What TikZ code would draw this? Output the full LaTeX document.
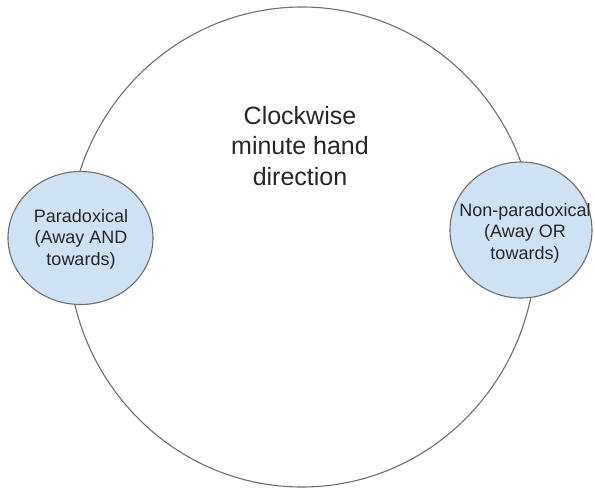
\documentclass[tikz,border=0pt]{standalone}
\usepackage{fontspec}
\setmainfont{Liberation Sans}
\usetikzlibrary{shapes.geometric}
\definecolor{lineg}{HTML}{6E6E6E}
\definecolor{bubble}{HTML}{CFE2F3}
\definecolor{txt}{HTML}{262626}
\tikzset{
  dialshape/.style={ellipse, draw=lineg, line width=1.1pt, inner sep=0pt, minimum width=468pt, minimum height=480pt},
  bubbleshape/.style={ellipse, draw=lineg, fill=bubble, line width=1.1pt, inner sep=0pt},
  bigtext/.style={align=center, text=txt, font=\fontsize{25}{30.5}\selectfont, inner sep=0pt},
  smalltext/.style={align=center, text=txt, font=\fontsize{18}{21.5}\selectfont, inner sep=0pt}
}
\begin{document}
\begin{tikzpicture}[x=1pt,y=-1pt]
\useasboundingbox (0,0) rectangle (595,488);
\node[dialshape] (dial) at (302,247) {};
\node[bigtext] (dirtext) at (300,146) {Clockwise\\minute hand\\direction};
\node[bubbleshape, minimum width=145pt, minimum height=133pt] (para) at (80.5,238) {};
\node[smalltext] (paratext) at (81,239) {Paradoxical\\(Away AND\\towards)};
\node[bubbleshape, minimum width=142pt, minimum height=136pt] (nonpara) at (521,230) {};
\node[smalltext] (nonparatext) at (525,233) {Non-paradoxical\\(Away OR\\towards)};
\end{tikzpicture}
\end{document}
